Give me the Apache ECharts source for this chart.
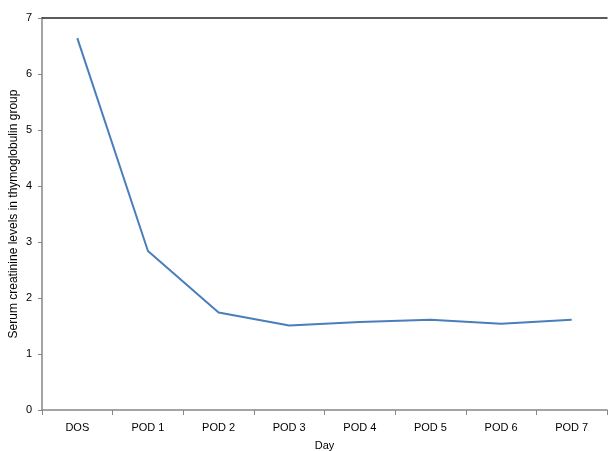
<!DOCTYPE html>
<html><head><meta charset="utf-8">
<script src="https://cdn.jsdelivr.net/npm/echarts@6/dist/echarts.min.js"></script>
<style>html,body{margin:0;padding:0;background:#fff}#c{width:609px;height:451px}</style>
</head><body><div id="c"></div>
<script>
var categories = ['DOS','POD 1','POD 2','POD 3','POD 4','POD 5','POD 6','POD 7'];
var values = [6.64, 2.84, 1.74, 1.51, 1.57, 1.61, 1.54, 1.61];
var yTicks = [0,1,2,3,4,5,6,7];
var xTitle = 'Day';
var yTitle = 'Serum creatinine levels in thymoglobulin group';

var chart = echarts.init(document.getElementById('c'), null, {renderer:'canvas'});
var font = 'Liberation Sans';
chart.setOption({
  animation:false,
  grid:{left:42, right:2, top:18, bottom:41, containLabel:false, outerBoundsMode:'none'},
  xAxis:[{
    type:'category', data:categories, boundaryGap:true,
    name:xTitle, nameLocation:'middle', nameGap:30, nameMoveOverlap:false,
    nameTextStyle:{fontFamily:font,fontSize:11,color:'#000'},
    axisLine:{lineStyle:{color:'#868686',width:1.5}},
    axisTick:{show:true,alignWithLabel:false,length:5,lineStyle:{color:'#868686'}},
    axisLabel:{fontFamily:font,fontSize:11,color:'#000',margin:12},
    splitLine:{show:false}
  },{
    type:'category', data:categories, position:'top',
    axisLine:{lineStyle:{color:'#262626',width:1.5}},
    axisTick:{show:false}, axisLabel:{show:false}, splitLine:{show:false}
  }],
  yAxis:{
    type:'value', min:yTicks[0], max:yTicks[yTicks.length-1], interval:1,
    name:yTitle, nameLocation:'middle', nameGap:22, nameMoveOverlap:false,
    nameTextStyle:{fontFamily:font,fontSize:12,color:'#000'},
    axisLine:{show:true,lineStyle:{color:'#868686',width:1.5}},
    axisTick:{show:true,length:4,lineStyle:{color:'#868686'}},
    axisLabel:{fontFamily:font,fontSize:11,color:'#000',margin:10},
    splitLine:{show:false}
  },
  series:[{
    type:'line', data:values, symbol:'none',
    lineStyle:{color:'#4a7ebb',width:2}
  }]
});
</script></body></html>
